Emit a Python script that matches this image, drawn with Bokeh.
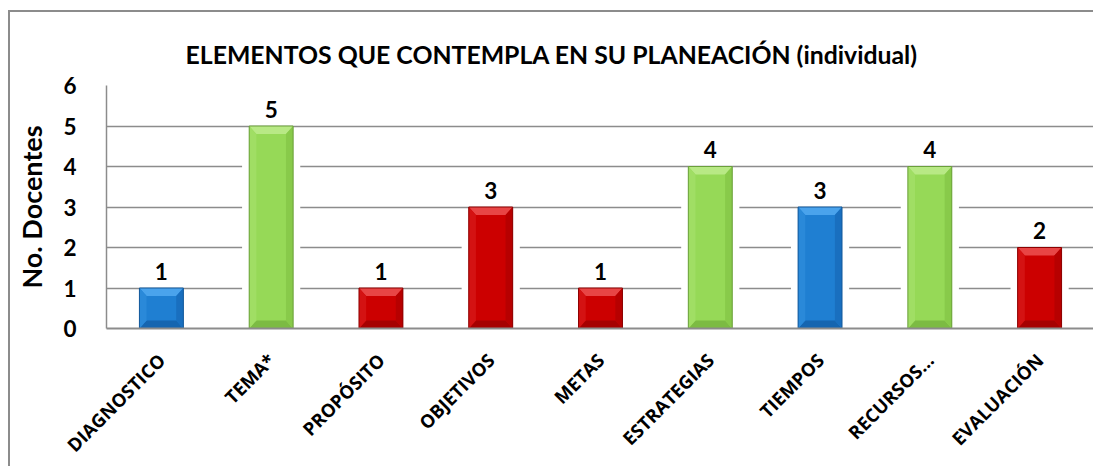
import math
from bokeh.plotting import figure
from bokeh.models import FactorRange, Range1d, FixedTicker, ColumnDataSource, Title
from bokeh.embed import file_html
from bokeh.resources import INLINE
from bokeh.core.properties import value

# ---- data ----
categories = ["DIAGNOSTICO", "TEMA*", "PROPÓSITO", "OBJETIVOS", "METAS",
              "ESTRATEGIAS", "TIEMPOS", "RECURSOS...", "EVALUACIÓN"]
counts = [1, 5, 1, 3, 1, 4, 3, 4, 2]
color_keys = ["blue", "green", "red", "red", "red", "green", "blue", "green", "red"]
y_ticks = [0, 1, 2, 3, 4, 5, 6]
title_text = "ELEMENTOS QUE CONTEMPLA EN SU PLANEACIÓN (individual)"
y_label = "No. Docentes"

# ---- styles ----
palette = {
    "blue": dict(face="#1f7fd2", light="#4aa3ec", side_l="#2a89d9", side_r="#196fbf", bottom="#1565b0", edge="#12589a"),
    "green": dict(face="#96d957", light="#b8e985", side_l="#a0de64", side_r="#88ca4a", bottom="#7cbb43", edge="#6a9f3a"),
    "red": dict(face="#cc0000", light="#e84545", side_l="#d41212", side_r="#b70000", bottom="#a60000", edge="#8c0000"),
}
HALF_W = 0.2
BEV_X = 0.065
BEV_Y = 0.2
GRID = "#8c8c8c"

p = figure(x_range=FactorRange(*categories, range_padding=0, factor_padding=0),
           y_range=Range1d(0, 6),
           width=1085, height=456, output_backend="svg", toolbar_location=None,
           min_border_left=96, min_border_right=1, min_border_top=73, min_border_bottom=140)
p.styles = {"border-left": "2px solid #8c8c8c", "border-top": "2px solid #8c8c8c",
            "margin-top": "10px", "margin-left": "8px"}
p.outline_line_color = None
p.background_fill_color = "white"
p.border_fill_color = "white"

p.xgrid.grid_line_color = None
p.ygrid.grid_line_color = GRID
p.ygrid.grid_line_width = 1.5
p.yaxis.ticker = FixedTicker(ticks=y_ticks)

# axes
p.xaxis.axis_line_color = GRID
p.xaxis.axis_line_width = 2
p.xaxis.major_tick_line_color = None
p.xaxis.minor_tick_line_color = None
p.xaxis.major_label_orientation = math.pi / 4
p.xaxis.major_label_text_font = "Open Sans"
p.xaxis.major_label_text_font_style = "bold"
p.xaxis.major_label_text_font_size = "18.5px"
p.xaxis.major_label_text_color = "black"
p.xaxis.major_label_standoff = 22

p.yaxis.axis_line_color = GRID
p.yaxis.axis_line_width = 1.5
p.yaxis.major_tick_line_color = None
p.yaxis.minor_tick_line_color = None
p.yaxis.major_label_text_font = "Lato"
p.yaxis.major_label_text_font_style = "bold"
p.yaxis.major_label_text_font_size = "22.5px"
p.yaxis.major_label_text_color = "black"
p.yaxis.major_label_standoff = 24
p.yaxis.axis_label = y_label
p.yaxis.axis_label_text_font = "Lato"
p.yaxis.axis_label_text_font_style = "bold"
p.yaxis.axis_label_text_font_size = "27px"
p.yaxis.axis_label_text_color = "black"
p.yaxis.axis_label_standoff = 12

# title
t = Title(text=title_text, align="left", offset=79, standoff=34,
          text_font="Lato", text_font_style="bold", text_font_size="24.8px", text_color="black")
p.add_layout(t, "above")

# ---- bars ----
cx = [i + 0.5 for i in range(len(categories))]

# white glow hiding grid near bars
p.vbar(x=cx, top=[v - 0.08 for v in counts], bottom=0, width=2 * HALF_W + 0.13,
       fill_color="white", line_color=None)

body = dict(xs=[], ys=[], fill=[], line=[])
top_b = dict(xs=[], ys=[], fill=[])
bot_b = dict(xs=[], ys=[], fill=[])
left_b = dict(xs=[], ys=[], fill=[])
right_b = dict(xs=[], ys=[], fill=[])
for c, v, k in zip(cx, counts, color_keys):
    col = palette[k]
    l, r = c - HALF_W, c + HALF_W
    body["xs"].append([l, r, r, l]); body["ys"].append([0, 0, v, v])
    body["fill"].append(col["face"]); body["line"].append(col["edge"])
    top_b["xs"].append([l, r, r - BEV_X, l + BEV_X]); top_b["ys"].append([v, v, v - BEV_Y, v - BEV_Y])
    top_b["fill"].append(col["light"])
    bot_b["xs"].append([l, r, r - BEV_X, l + BEV_X]); bot_b["ys"].append([0, 0, BEV_Y, BEV_Y])
    bot_b["fill"].append(col["bottom"])
    left_b["xs"].append([l, l + BEV_X, l + BEV_X, l]); left_b["ys"].append([0, BEV_Y, v - BEV_Y, v])
    left_b["fill"].append(col["side_l"])
    right_b["xs"].append([r, r - BEV_X, r - BEV_X, r]); right_b["ys"].append([0, BEV_Y, v - BEV_Y, v])
    right_b["fill"].append(col["side_r"])

p.patches("xs", "ys", source=ColumnDataSource(body), fill_color="fill", line_color=None)
for d in (top_b, bot_b, left_b, right_b):
    p.patches("xs", "ys", source=ColumnDataSource(d), fill_color="fill", line_color=None)
p.patches("xs", "ys", source=ColumnDataSource(body), fill_color=None, line_color="line", line_width=1)

# value labels
p.text(x=cx, y=counts, text=[str(v) for v in counts], y_offset=-17,
       text_align="center", text_baseline="alphabetic",
       text_font=value("Lato"), text_font_style="bold", text_font_size="22.5px", text_color="black")

open("out.html", "w").write(file_html(p, INLINE))
